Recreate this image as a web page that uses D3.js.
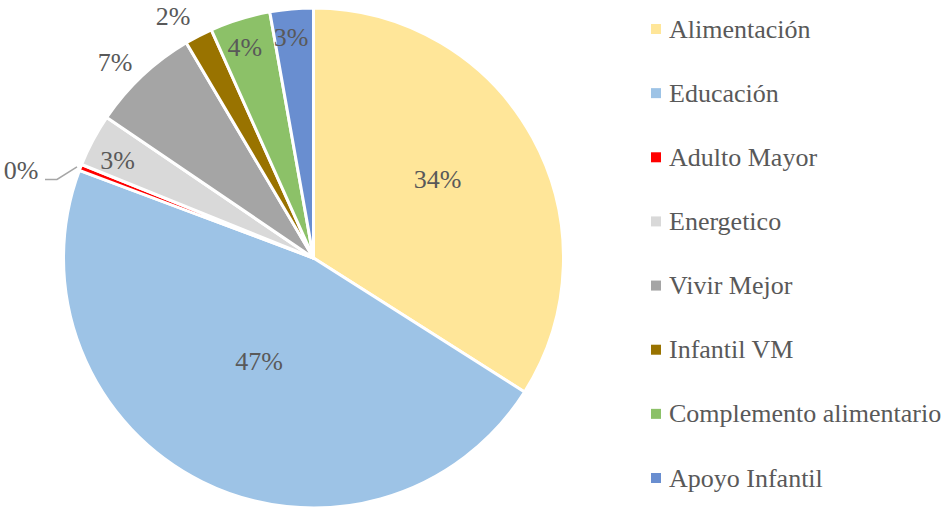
<!DOCTYPE html>
<html>
<head>
<meta charset="utf-8">
<script src="https://cdn.jsdelivr.net/npm/d3@7"></script>
</head>
<body style="margin:0;background:#fff">
<svg id="chart" width="947" height="510"></svg>
<script>
// Données du graphique
const categories = ['Alimentación', 'Educación', 'Adulto Mayor', 'Energetico', 'Vivir Mejor', 'Infantil VM', 'Complemento alimentario', 'Apoyo Infantil'];
const values = [34.0, 46.7, 0.4, 3.4, 7.0, 1.8, 3.9, 2.8];
const colors = ['#FFE699', '#9DC3E6', '#FF0000', '#D9D9D9', '#A5A5A5', '#997300', '#8CC168', '#698ED0'];

// Placement des étiquettes : fraction du rayon + petit décalage (px)
const labelRadius = [0.587, 0.468, null, 0.877, 1.116, 1.118, 0.885, 0.887];
const labelNudge = [[-4.6, -7.8], [-2.4, -1.2], [0, 0], [-2.5, 5.2], [-7.5, 7.4], [-12, 6.6], [-3.5, 0.7], [-3, 0.2]];

const textColor = '#595959';
const svg = d3.select('#chart');
const cx = 313.5, cy = 258, radius = 250;

const pie = d3.pie().sort(null).value((d) => d);
const arcs = pie(values);

const arc = d3.arc().innerRadius(0).outerRadius(radius);

const g = svg.append('g').attr('transform', `translate(${cx},${cy})`);

// Secteurs
g.selectAll('path')
  .data(arcs)
  .enter()
  .append('path')
  .attr('d', arc)
  .attr('fill', (d, i) => colors[i])
  .attr('stroke', '#fff')
  .attr('stroke-width', 3)
  .attr('stroke-linejoin', 'round');

const fmt = (v) => `${Math.round(v)}%`;

// Ajout d'un texte avec la police serif
const addText = (parent, x, y, str, anchor) =>
  parent.append('text')
    .attr('x', x)
    .attr('y', y)
    .attr('text-anchor', anchor)
    .attr('dominant-baseline', 'central')
    .attr('font-size', 26)
    .attr('font-family', 'Liberation Serif')
    .attr('fill', textColor)
    .style('font-family', 'Liberation Serif')
    .text(str);

// Étiquettes
arcs.forEach((d, i) => {
  const mid = (d.startAngle + d.endAngle) / 2;
  if (labelRadius[i] === null) {
    // étiquette avec ligne de rappel
    const ex = Math.sin(mid) * radius, ey = -Math.cos(mid) * radius;
    g.append('path')
      .attr('d', d3.line()([[ex - 3.5, ey - 0.5], [ex - 23.5, ey + 12], [ex - 35.5, ey + 12]]))
      .attr('fill', 'none')
      .attr('stroke', '#A6A6A6')
      .attr('stroke-width', 1.5);
    addText(g, ex - 42, ey + 3.5, fmt(values[i]), 'end');
    return;
  }
  const r = labelRadius[i] * radius;
  addText(g, Math.sin(mid) * r + labelNudge[i][0], -Math.cos(mid) * r + labelNudge[i][1], fmt(values[i]), 'middle');
});

// Légende
const legendY = d3.scalePoint().domain(categories).range([29, 478]);

const legend = svg.append('g');
legend.selectAll('rect')
  .data(categories)
  .enter()
  .append('rect')
  .attr('x', 651)
  .attr('y', (d) => legendY(d) - 5)
  .attr('width', 10)
  .attr('height', 10)
  .attr('fill', (d, i) => colors[i]);

categories.forEach((c) => addText(legend, 669, legendY(c), c, 'start'));
</script>
</body>
</html>
